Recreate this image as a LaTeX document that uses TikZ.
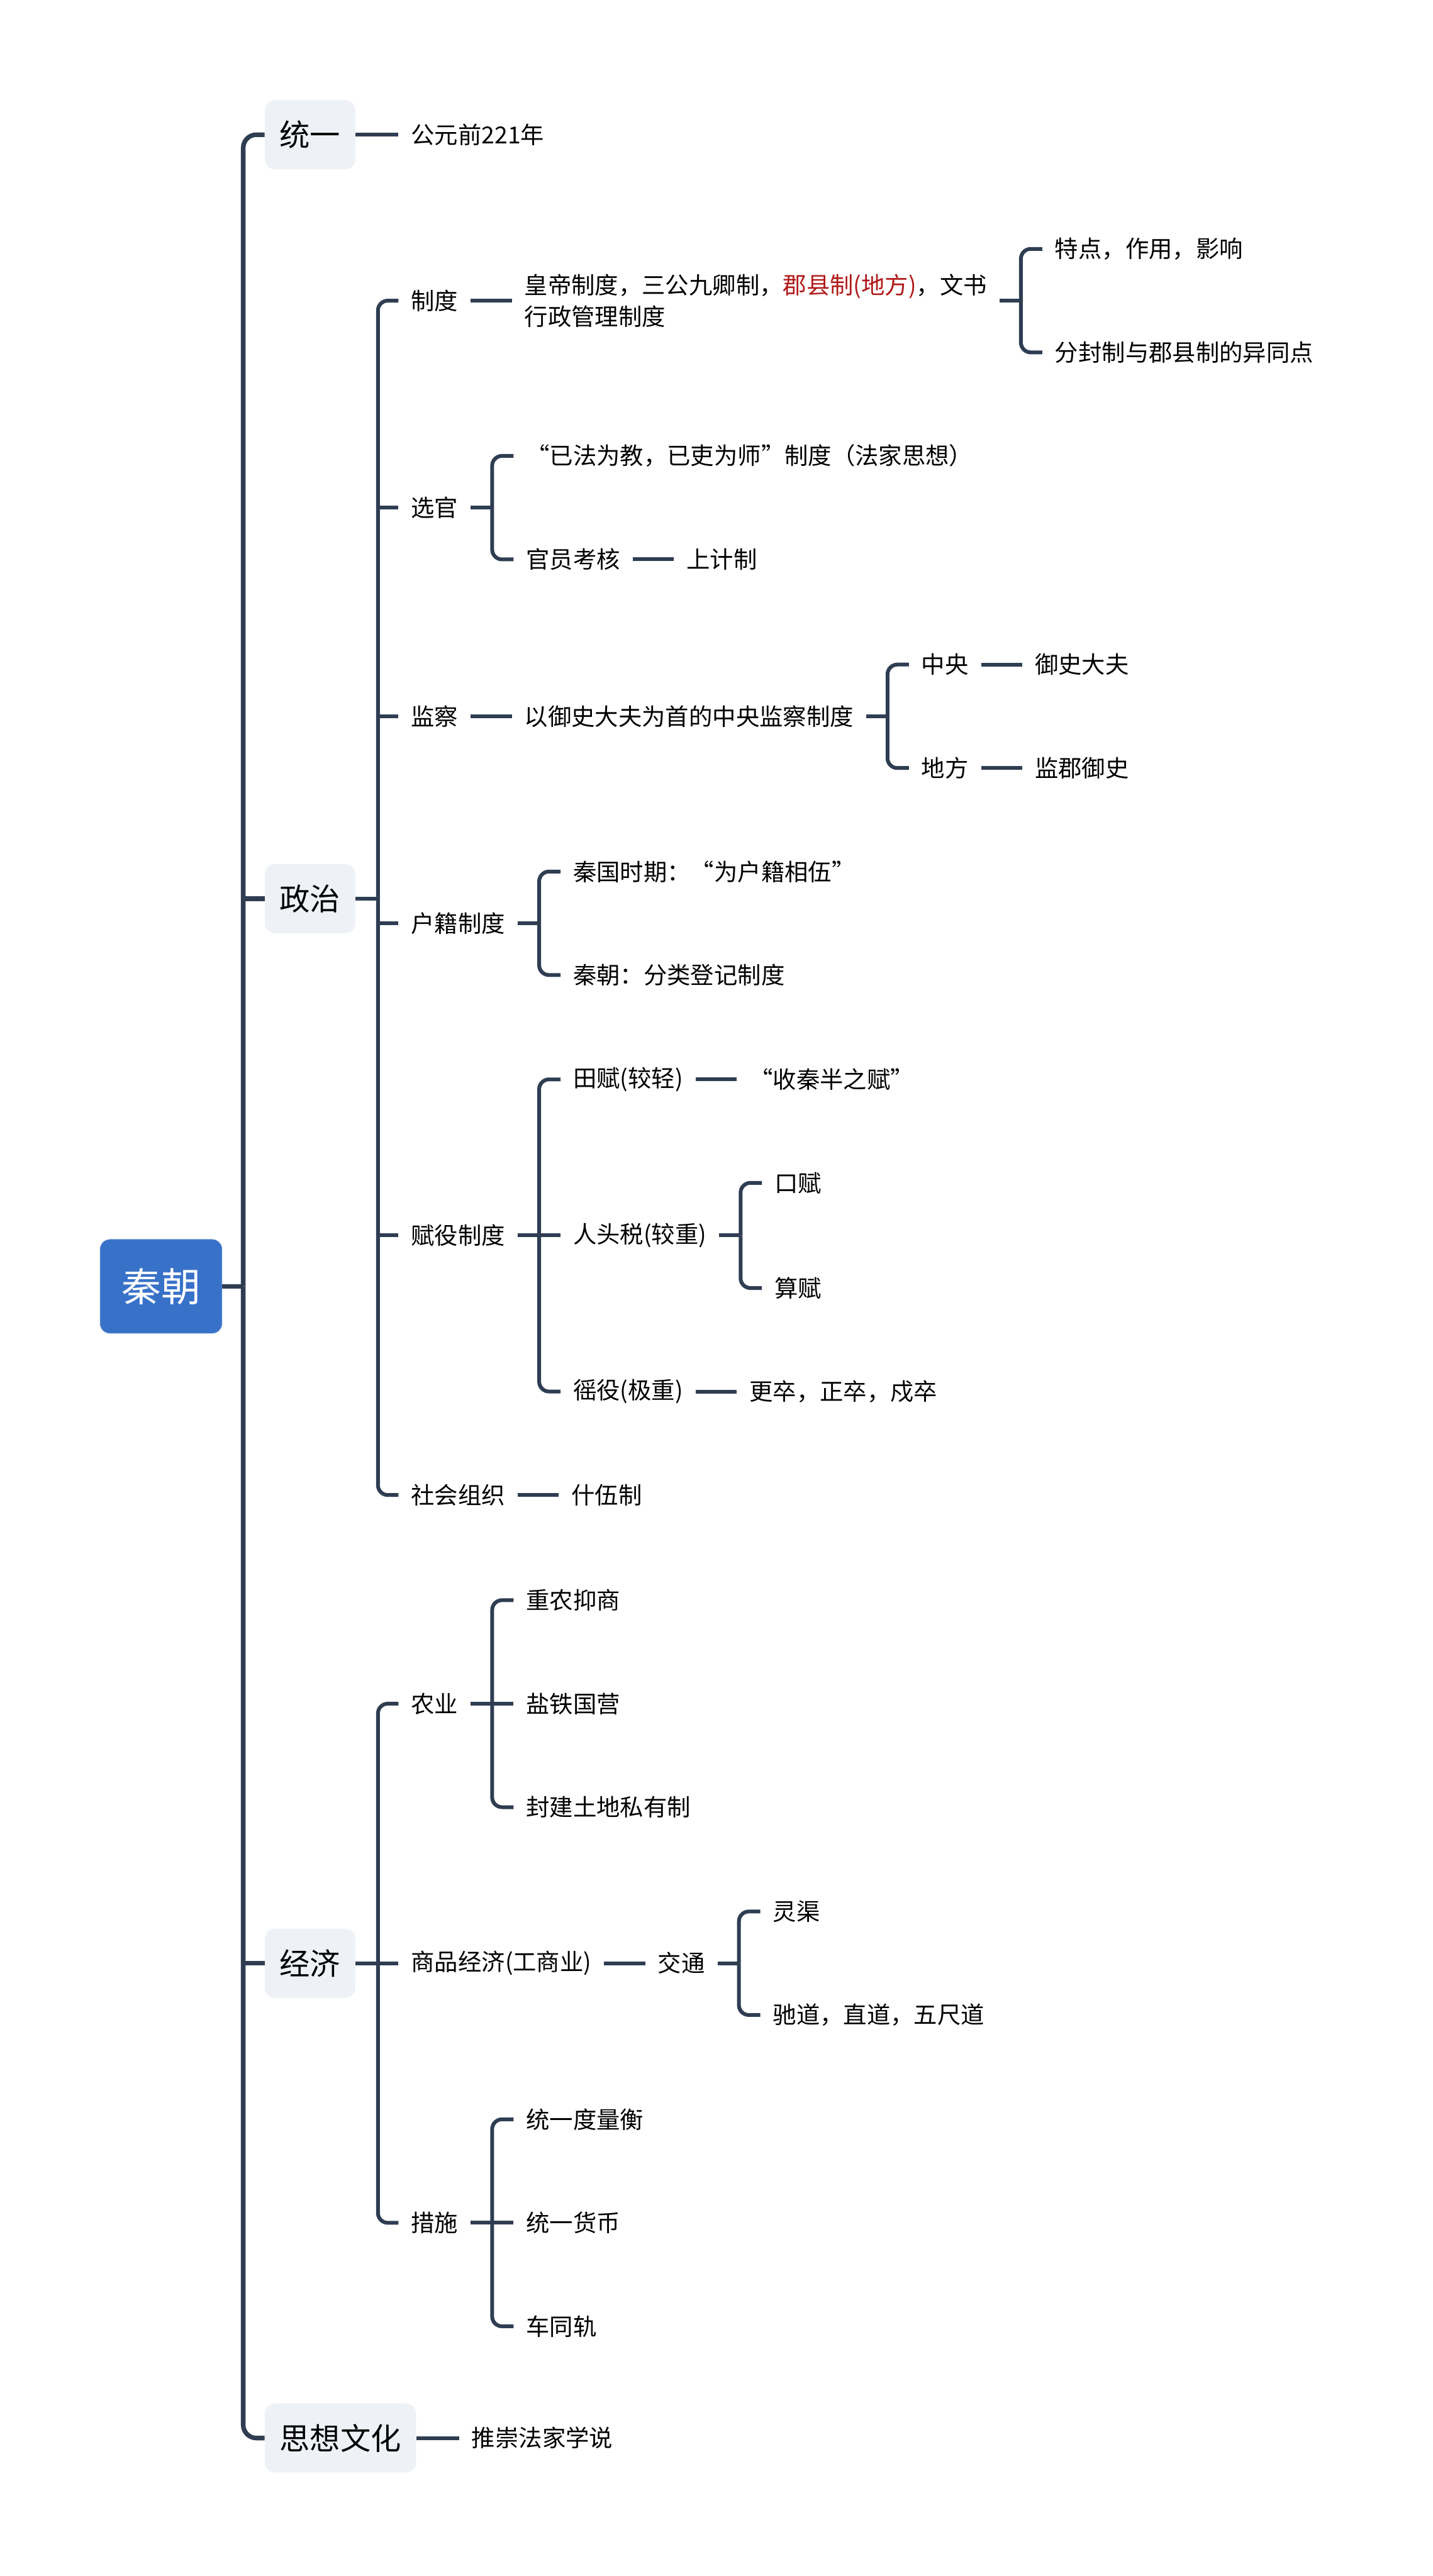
\documentclass[tikz,border=0pt]{standalone}
\usepackage{fontspec}
\setmainfont{Noto Sans CJK SC}
\usepackage{tikz}
\usetikzlibrary{positioning}

\definecolor{linecol}{RGB}{47,61,82}
\definecolor{rootblue}{RGB}{56,113,200}
\definecolor{topicgray}{RGB}{238,241,245}
\definecolor{darkred}{RGB}{176,24,24}

\begin{document}
\begin{tikzpicture}[
    x=1pt, y=1pt,
    node distance=25pt,
    rootbox/.style={rectangle, rounded corners=6pt, fill=rootblue, draw=rootblue!85!white, text=white, minimum width=74pt, minimum height=57pt, font=\fontsize{24}{28}\selectfont},
    topicbox/.style={rectangle, rounded corners=6pt, fill=topicgray, anchor=west, inner xsep=9pt, minimum height=42pt, font=\fontsize{18.5}{22}\selectfont},
    leaf/.style={anchor=west, inner xsep=7.5pt, inner ysep=2pt, align=left, font=\fontsize{14.3}{19}\selectfont},
    trunkline/.style={draw=linecol, line width=2.8pt, rounded corners=8pt},
    branch/.style={draw=linecol, line width=2.3pt},
    fork/.style={branch, rounded corners=6pt}
]
    \useasboundingbox (0,0) rectangle (872,-1568);

    % Root and main topics
    \node[rootbox] (qin) at (98,-783) {秦朝};
    \coordinate (trunk) at (148,-783);

    \node[topicbox] (tongyi) at (161,-82) {统一};
    \node[topicbox] (zhengzhi) at (161,-547) {政治};
    \node[topicbox] (jingji) at (161,-1195) {经济};
    \node[topicbox] (sixiang) at (161,-1484) {思想文化};

    \draw[trunkline] (qin.east) -- (trunk);
    \draw[trunkline] (trunk) |- (tongyi.west);
    \draw[trunkline] (trunk) |- (sixiang.west);
    \draw[trunkline] (trunk |- zhengzhi) -- (zhengzhi.west);
    \draw[trunkline] (trunk |- jingji) -- (jingji.west);

    % 统一
    \node[leaf] (gongyuan) at (242.5,-82) {公元前221年};
    \draw[branch] (tongyi) -- (gongyuan);

    % 政治
    \coordinate (zz) at (230,-547);
    \node[leaf] (zhidu) at (242.5,-183) {制度};
    \node[leaf] (xuanguan) at (242.5,-309) {选官};
    \node[leaf] (jiancha) at (242.5,-436) {监察};
    \node[leaf] (huji) at (242.5,-562) {户籍制度};
    \node[leaf] (fuyi) at (242.5,-752) {赋役制度};
    \node[leaf] (shehui) at (242.5,-910) {社会组织};

    \draw[branch] (zhengzhi) -- (zz);
    \draw[fork] (zz) |- (zhidu.west);
    \draw[fork] (zz) |- (shehui.west);
    \foreach \n in {xuanguan,jiancha,huji,fuyi}
        \draw[branch] (zz |- \n.west) -- (\n.west);

    % 制度
    \node[leaf, right=of zhidu] (zhidu1) {皇帝制度，三公九卿制，\textcolor{darkred}{郡县制(地方)}，文书\\行政管理制度};
    \coordinate[right=13pt of zhidu1] (zd);
    \node[leaf, right=26pt of zhidu1, yshift=31.5pt] (tedian) {特点，作用，影响};
    \node[leaf, right=26pt of zhidu1, yshift=-31.5pt] (yitong) {分封制与郡县制的异同点};
    \draw[branch] (zhidu) -- (zhidu1);
    \draw[branch] (zhidu1) -- (zd);
    \draw[fork] (zd) |- (tedian.west);
    \draw[fork] (zd) |- (yitong.west);

    % 选官
    \coordinate[right=13pt of xuanguan] (xg);
    \node[leaf, right=26pt of xuanguan, yshift=31.5pt] (yifa) {“已法为教，已吏为师”制度（法家思想）};
    \node[leaf, right=26pt of xuanguan, yshift=-31.5pt] (kaohe) {官员考核};
    \node[leaf, right=of kaohe] (shangji) {上计制};
    \draw[branch] (xuanguan) -- (xg);
    \draw[fork] (xg) |- (yifa.west);
    \draw[fork] (xg) |- (kaohe.west);
    \draw[branch] (kaohe) -- (shangji);

    % 监察
    \node[leaf, right=of jiancha] (yushi) {以御史大夫为首的中央监察制度};
    \coordinate[right=13pt of yushi] (ys);
    \node[leaf, right=26pt of yushi, yshift=31.5pt] (zhongyang) {中央};
    \node[leaf, right=26pt of yushi, yshift=-31.5pt] (difang) {地方};
    \node[leaf, right=of zhongyang] (yushidafu) {御史大夫};
    \node[leaf, right=of difang] (jianjun) {监郡御史};
    \draw[branch] (jiancha) -- (yushi);
    \draw[branch] (yushi) -- (ys);
    \draw[fork] (ys) |- (zhongyang.west);
    \draw[fork] (ys) |- (difang.west);
    \draw[branch] (zhongyang) -- (yushidafu);
    \draw[branch] (difang) -- (jianjun);

    % 户籍制度
    \coordinate[right=13pt of huji] (hj);
    \node[leaf, right=26pt of huji, yshift=31.5pt] (qinguo) {秦国时期：“为户籍相伍”};
    \node[leaf, right=26pt of huji, yshift=-31.5pt] (qinchao) {秦朝：分类登记制度};
    \draw[branch] (huji) -- (hj);
    \draw[fork] (hj) |- (qinguo.west);
    \draw[fork] (hj) |- (qinchao.west);

    % 赋役制度
    \coordinate[right=13pt of fuyi] (fy);
    \node[leaf, right=26pt of fuyi, yshift=95pt] (tianfu) {田赋(较轻)};
    \node[leaf, right=26pt of fuyi] (rentou) {人头税(较重)};
    \node[leaf, right=26pt of fuyi, yshift=-95pt] (yaoyi) {徭役(极重)};
    \node[leaf, right=of tianfu] (shouqin) {“收秦半之赋”};
    \coordinate[right=13pt of rentou] (rt);
    \node[leaf, right=26pt of rentou, yshift=32pt] (koufu) {口赋};
    \node[leaf, right=26pt of rentou, yshift=-32pt] (suanfu) {算赋};
    \node[leaf, right=of yaoyi] (gengzu) {更卒，正卒，戍卒};
    \draw[branch] (fuyi) -- (rentou);
    \draw[fork] (fy) |- (tianfu.west);
    \draw[fork] (fy) |- (yaoyi.west);
    \draw[branch] (tianfu) -- (shouqin);
    \draw[branch] (rentou) -- (rt);
    \draw[fork] (rt) |- (koufu.west);
    \draw[fork] (rt) |- (suanfu.west);
    \draw[branch] (yaoyi) -- (gengzu);

    % 社会组织
    \node[leaf, right=of shehui] (shiwu) {什伍制};
    \draw[branch] (shehui) -- (shiwu);

    % 经济
    \coordinate (jj) at (230,-1195);
    \node[leaf] (nongye) at (242.5,-1037) {农业};
    \node[leaf] (shangpin) at (242.5,-1195) {商品经济(工商业)};
    \node[leaf] (cuoshi) at (242.5,-1353) {措施};
    \draw[branch] (jingji) -- (shangpin);
    \draw[fork] (jj) |- (nongye.west);
    \draw[fork] (jj) |- (cuoshi.west);

    % 农业
    \coordinate[right=13pt of nongye] (ny);
    \node[leaf, right=26pt of nongye, yshift=63pt] (zhongnong) {重农抑商};
    \node[leaf, right=26pt of nongye] (yantie) {盐铁国营};
    \node[leaf, right=26pt of nongye, yshift=-63pt] (tudi) {封建土地私有制};
    \draw[branch] (nongye) -- (yantie);
    \draw[fork] (ny) |- (zhongnong.west);
    \draw[fork] (ny) |- (tudi.west);

    % 商品经济
    \node[leaf, right=of shangpin] (jiaotong) {交通};
    \coordinate[right=13pt of jiaotong] (jt);
    \node[leaf, right=26pt of jiaotong, yshift=31.5pt] (lingqu) {灵渠};
    \node[leaf, right=26pt of jiaotong, yshift=-31.5pt] (chidao) {驰道，直道，五尺道};
    \draw[branch] (shangpin) -- (jiaotong);
    \draw[branch] (jiaotong) -- (jt);
    \draw[fork] (jt) |- (lingqu.west);
    \draw[fork] (jt) |- (chidao.west);

    % 措施
    \coordinate[right=13pt of cuoshi] (cs);
    \node[leaf, right=26pt of cuoshi, yshift=63pt] (duliang) {统一度量衡};
    \node[leaf, right=26pt of cuoshi] (huobi) {统一货币};
    \node[leaf, right=26pt of cuoshi, yshift=-63pt] (chegui) {车同轨};
    \draw[branch] (cuoshi) -- (huobi);
    \draw[fork] (cs) |- (duliang.west);
    \draw[fork] (cs) |- (chegui.west);

    % 思想文化
    \node[leaf, right=26pt of sixiang] (tuichong) {推崇法家学说};
    \draw[branch] (sixiang) -- (tuichong);

\end{tikzpicture}
\end{document}
